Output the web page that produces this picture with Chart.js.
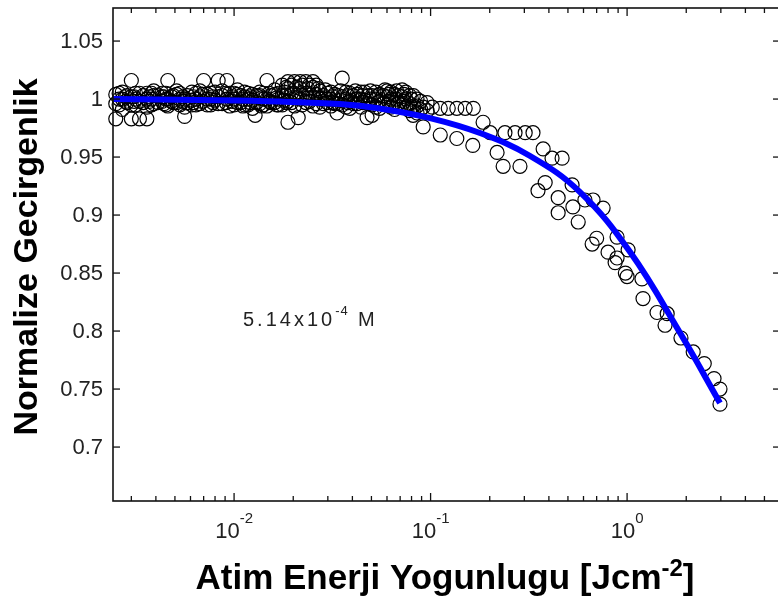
<!DOCTYPE html>
<html>
<head>
<meta charset="utf-8">
<script src="https://cdn.jsdelivr.net/npm/chart.js@4/dist/chart.umd.min.js"></script>
<style>
  html, body { margin: 0; padding: 0; background: #fff; overflow: hidden; }
  canvas { display: block; }
</style>
</head>
<body>
<canvas id="chart" width="782" height="601"></canvas>
<script>
// measured normalized transmission: fluence [J/cm^2] and the readings taken there
const measured = [
  [0.0025, [0.996, 1.004, 0.983]],
  [0.0026, [1.005, 1.000, 0.995]],
  [0.0027, [1.000, 1.006, 0.991]],
  [0.0028, [1.002, 0.998]],
  [0.00285, [1.003, 0.997]],
  [0.0030, [1.002, 0.995, 0.983, 1.016]],
  [0.0031, [1.002, 0.998]],
  [0.00315, [1.005, 1.000, 0.995]],
  [0.0033, [1.005, 0.998, 0.983]],
  [0.00345, [1.003, 0.997]],
  [0.0036, [1.000, 1.005, 0.993, 0.983]],
  [0.0037, [1.002, 0.998]],
  [0.0038, [1.005, 1.000, 0.995]],
  [0.0039, [1.003, 0.996, 1.007]],
  [0.0041, [1.003, 0.997]],
  [0.0043, [1.005, 0.998, 1.002]],
  [0.0044, [1.002, 0.996]],
  [0.0045, [1.005, 1.000, 0.995]],
  [0.0046, [1.016, 1.000, 0.994]],
  [0.0048, [1.002, 0.998]],
  [0.0049, [1.003, 0.997]],
  [0.0051, [1.004, 0.997, 1.007]],
  [0.0053, [1.005, 1.000, 0.995]],
  [0.0055, [1.002, 0.998]],
  [0.0056, [1.000, 0.993, 0.985]],
  [0.0058, [1.003, 0.997]],
  [0.0061, [1.006, 0.999, 0.995]],
  [0.0062, [1.002, 0.997]],
  [0.0064, [1.005, 1.000, 0.995]],
  [0.0067, [1.002, 1.007, 0.996]],
  [0.0069, [1.004, 0.998]],
  [0.0070, [1.016]],
  [0.0073, [1.004, 0.995, 1.000]],
  [0.0076, [1.005, 1.000, 0.995]],
  [0.0078, [1.002, 0.997]],
  [0.0080, [1.006, 0.999]],
  [0.0083, [1.016, 1.002, 0.996]],
  [0.0087, [1.003, 0.996, 1.007]],
  [0.0091, [1.005, 0.997]],
  [0.0092, [1.016, 1.000]],
  [0.0095, [0.994, 1.005]],
  [0.0098, [1.002, 0.998]],
  [0.0100, [1.005, 1.000, 0.995]],
  [0.0104, [1.004, 0.997, 1.008]],
  [0.0108, [1.003, 0.997]],
  [0.0111, [1.000, 0.994]],
  [0.0113, [1.002, 0.995, 1.006]],
  [0.0118, [1.005, 1.000, 0.995]],
  [0.0121, [1.002, 0.997]],
  [0.0124, [0.999, 0.992, 1.004]],
  [0.0128, [0.986]],
  [0.0130, [1.003, 0.997]],
  [0.0135, [1.003, 0.996, 1.006]],
  [0.0138, [1.001, 0.994]],
  [0.0141, [1.005, 1.000, 0.995]],
  [0.0147, [1.016, 1.000, 0.994]],
  [0.0151, [1.005, 0.998]],
  [0.0154, [1.003, 0.997]],
  [0.0161, [1.004, 0.997, 1.008]],
  [0.0165, [1.001, 0.995]],
  [0.0168, [1.005, 1.000, 0.995]],
  [0.0176, [1.003, 0.995, 1.012]],
  [0.0180, [1.006, 0.999]],
  [0.0184, [1.010, 1.003, 0.997]],
  [0.0188, [1.015, 1.009, 0.998, 0.980]],
  [0.0196, [1.012, 1.005, 0.997]],
  [0.0203, [1.015, 1.005, 0.994]],
  [0.0208, [1.010, 1.001]],
  [0.0212, [0.984]],
  [0.0217, [1.015, 1.009, 1.000]],
  [0.0222, [1.012, 1.003, 0.995]],
  [0.0232, [1.015, 1.005, 0.997]],
  [0.0237, [1.009, 1.001]],
  [0.0242, [1.012, 1.005, 0.998]],
  [0.0252, [1.015, 1.010, 1.002, 0.994]],
  [0.0262, [1.012, 1.004, 0.996]],
  [0.0268, [1.009, 1.001]],
  [0.0273, [1.007, 1.000, 0.993]],
  [0.0285, [1.003, 0.996]],
  [0.0291, [1.008, 1.001]],
  [0.0298, [1.005, 0.997, 1.000]],
  [0.0311, [1.006, 1.000, 0.994]],
  [0.0318, [1.002, 0.997]],
  [0.0325, [1.004, 0.996]],
  [0.0334, [0.988]],
  [0.0340, [1.003, 0.996]],
  [0.0348, [1.007, 0.999]],
  [0.0355, [1.018, 1.002, 0.995]],
  [0.0371, [1.006, 1.000, 0.993]],
  [0.0380, [1.003, 0.997]],
  [0.0388, [1.005, 0.998, 0.992]],
  [0.0405, [1.003, 0.996]],
  [0.0414, [1.007, 1.000]],
  [0.0423, [1.004, 0.996, 1.000]],
  [0.0442, [1.006, 1.000, 0.993]],
  [0.0452, [1.003, 0.997]],
  [0.0462, [1.006, 0.999]],
  [0.0475, [0.984]],
  [0.0483, [1.003, 0.996]],
  [0.0494, [1.007, 1.000]],
  [0.0504, [1.003, 0.995, 0.986]],
  [0.0527, [1.006, 1.000, 0.993]],
  [0.0538, [1.003, 0.997]],
  [0.0550, [1.004, 0.998, 0.992]],
  [0.0575, [1.003, 0.996]],
  [0.0586, [1.008]],
  [0.0601, [1.002, 0.995, 1.007]],
  [0.0614, [1.004, 0.998]],
  [0.0628, [1.006, 1.000, 0.993]],
  [0.0656, [1.004, 0.997, 0.991]],
  [0.0671, [1.007, 1.000]],
  [0.0686, [1.003, 0.996]],
  [0.0716, [1.008, 1.002, 0.995]],
  [0.0732, [1.004, 0.998]],
  [0.0748, [1.006, 1.000, 0.993]],
  [0.0781, [1.003, 0.996, 0.990]],
  [0.0799, [1.000, 0.993]],
  [0.0815, [0.986]],
  [0.0817, [1.003, 0.994]],
  [0.0853, [1.000, 0.994, 0.988]],
  [0.0890, [0.998, 0.991]],
  [0.0917, [0.993, 0.976]],
  [0.0960, [0.997, 0.990]],
  [0.1020, [0.993]],
  [0.1120, [0.992, 0.969]],
  [0.1230, [0.992]],
  [0.1360, [0.992, 0.966]],
  [0.1500, [0.992]],
  [0.1640, [0.960]],
  [0.1650, [0.992]],
  [0.185, [0.980]],
  [0.201, [0.971]],
  [0.218, [0.954]],
  [0.234, [0.942]],
  [0.239, [0.971]],
  [0.269, [0.971]],
  [0.285, [0.942]],
  [0.303, [0.971]],
  [0.332, [0.971]],
  [0.352, [0.921]],
  [0.374, [0.957]],
  [0.383, [0.928]],
  [0.415, [0.949]],
  [0.446, [0.915, 0.902]],
  [0.467, [0.949]],
  [0.525, [0.926]],
  [0.530, [0.907]],
  [0.564, [0.894]],
  [0.610, [0.913]],
  [0.664, [0.875]],
  [0.671, [0.913]],
  [0.700, [0.880]],
  [0.755, [0.906]],
  [0.800, [0.868]],
  [0.869, [0.859]],
  [0.889, [0.881, 0.863]],
  [0.980, [0.850]],
  [1.000, [0.847]],
  [1.012, [0.870]],
  [1.190, [0.845]],
  [1.205, [0.828]],
  [1.420, [0.816]],
  [1.560, [0.805]],
  [1.600, [0.815]],
  [1.880, [0.794]],
  [2.170, [0.782]],
  [2.470, [0.772]],
  [2.770, [0.759]],
  [2.970, [0.750, 0.737]]
];

// saturation fit through the measurements
const fitFluence = [0.00242, 0.00671, 0.0171, 0.0346, 0.0553, 0.0993, 0.1785, 0.321, 0.576, 1.036, 1.862, 2.97];
const fitTransmission = [1.000, 0.9991, 0.9978, 0.9957, 0.9918, 0.9836, 0.9707, 0.9509, 0.9198, 0.8681, 0.7983, 0.7380];

const yTicks = [0.7, 0.75, 0.8, 0.85, 0.9, 0.95, 1, 1.05];
const yTickLabels = ['0.7', '0.75', '0.8', '0.85', '0.9', '0.95', '1', '1.05'];
const xTicks = [0.01, 0.1, 1];
const xTickExponents = ['-2', '-1', '0'];

const scatterPoints = [];
measured.forEach(([f, readings]) => readings.forEach(t => scatterPoints.push({ x: f, y: t })));
const fitPoints = fitFluence.map((f, i) => ({ x: f, y: fitTransmission[i] }));

const FONT = '"Liberation Sans", Arial, sans-serif';

function hline(ctx, x1, x2, y) { ctx.beginPath(); ctx.moveTo(x1, y); ctx.lineTo(x2, y); ctx.stroke(); }
function vline(ctx, x, y1, y2) { ctx.beginPath(); ctx.moveTo(x, y1); ctx.lineTo(x, y2); ctx.stroke(); }

// box axes with inward ticks, log minor ticks and superscript labels
const boxAxes = {
  id: 'boxAxes',
  afterDatasetsDraw(chart) {
    const { ctx, chartArea: a, scales: { x, y } } = chart;
    ctx.save();
    ctx.strokeStyle = '#111';
    ctx.lineWidth = 1.6;
    ctx.strokeRect(a.left, a.top, a.right - a.left, a.bottom - a.top);

    ctx.lineWidth = 1.3;
    ctx.fillStyle = '#222';
    ctx.font = '22px ' + FONT;
    ctx.textAlign = 'right';
    ctx.textBaseline = 'middle';
    yTicks.forEach((v, i) => {
      const py = y.getPixelForValue(v);
      hline(ctx, a.left, a.left + 7, py);
      hline(ctx, a.right - 7, a.right, py);
      ctx.fillText(yTickLabels[i], a.left - 10, py + 1);
    });

    // minor ticks at 2..9 of each decade, majors at the decades
    for (let d = -3; d <= 0; d++) {
      for (let m = 1; m <= 9; m++) {
        const v = m * Math.pow(10, d);
        if (v < x.min || v > x.max) continue;
        const px = x.getPixelForValue(v);
        const len = m === 1 ? 8 : 5;
        vline(ctx, px, a.bottom, a.bottom - len);
        vline(ctx, px, a.top, a.top + len);
      }
    }

    ctx.textAlign = 'left';
    ctx.textBaseline = 'alphabetic';
    xTicks.forEach((v, i) => {
      const px = x.getPixelForValue(v);
      ctx.font = '22px ' + FONT;
      const wBase = ctx.measureText('10').width;
      ctx.font = '15px ' + FONT;
      const wExp = ctx.measureText(xTickExponents[i]).width;
      const x0 = px - (wBase + wExp) / 2;
      ctx.font = '22px ' + FONT;
      ctx.fillText('10', x0, 538);
      ctx.font = '15px ' + FONT;
      ctx.fillText(xTickExponents[i], x0 + wBase, 523);
    });

    // axis titles
    ctx.fillStyle = '#000';
    ctx.font = 'bold 35px ' + FONT;
    const t1 = 'Atim Enerji Yogunlugu [Jcm';
    const w1 = ctx.measureText(t1).width;
    const w3 = ctx.measureText(']').width;
    ctx.font = 'bold 24px ' + FONT;
    const w2 = ctx.measureText('-2').width;
    const tx = 445 - (w1 + w2 + w3) / 2;
    ctx.font = 'bold 35px ' + FONT;
    ctx.fillText(t1, tx, 589);
    ctx.font = 'bold 24px ' + FONT;
    ctx.fillText('-2', tx + w1, 576);
    ctx.font = 'bold 35px ' + FONT;
    ctx.fillText(']', tx + w1 + w2, 589);

    ctx.save();
    ctx.translate(37, 257);
    ctx.rotate(-Math.PI / 2);
    ctx.textAlign = 'center';
    ctx.font = 'bold 34px ' + FONT;
    ctx.fillText('Normalize Gecirgenlik', 0, 0);
    ctx.restore();

    // concentration note
    ctx.fillStyle = '#222';
    ctx.letterSpacing = '3px';
    ctx.font = '20px ' + FONT;
    ctx.fillText('5.14x10', 243, 326);
    const wn = ctx.measureText('5.14x10').width;
    ctx.font = '13px ' + FONT;
    ctx.letterSpacing = '1px';
    ctx.fillText('-4', 243 + wn, 315);
    ctx.font = '20px ' + FONT;
    ctx.fillText('M', 358, 326);
    ctx.restore();
  }
};

new Chart(document.getElementById('chart'), {
  type: 'scatter',
  data: {
    datasets: [
      {
        type: 'line',
        data: fitPoints,
        borderColor: '#0000ff',
        borderWidth: 6,
        pointRadius: 0,
        tension: 0.4,
        fill: false,
        order: 0
      },
      {
        data: scatterPoints,
        pointStyle: 'circle',
        pointRadius: 7,
        borderWidth: 1.2,
        borderColor: '#000',
        backgroundColor: 'rgba(0,0,0,0)',
        clip: false,
        order: 1
      }
    ]
  },
  options: {
    responsive: false,
    animation: false,
    devicePixelRatio: 1,
    // right edge of the box sits just past the visible window
    layout: { autoPadding: false, padding: { left: 113, top: 8, right: 2, bottom: 100 } },
    plugins: { legend: { display: false }, tooltip: { enabled: false } },
    scales: {
      x: { type: 'logarithmic', min: 0.00242, max: 6, display: false },
      y: { type: 'linear', min: 0.6535, max: 1.0785, display: false }
    }
  },
  plugins: [boxAxes]
});
</script>
</body>
</html>
